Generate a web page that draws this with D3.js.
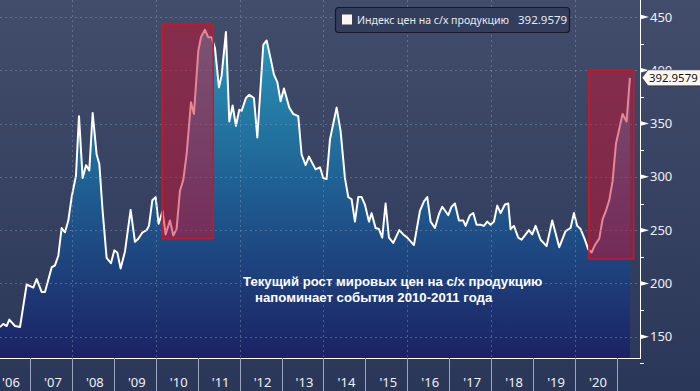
<!DOCTYPE html>
<html><head><meta charset="utf-8">
<script src="https://cdn.jsdelivr.net/npm/d3@7"></script>
<style>html,body{margin:0;padding:0;background:#2c3858;}svg{display:block;}</style>
</head><body><svg id="c" width="700" height="391"></svg>
<script>
// decimal year of each reading
const dates = [2006.285,2006.364,2006.444,2006.507,2006.642,2006.762,2006.921,2007.079,2007.159,2007.278,2007.358,2007.517,2007.596,2007.676,2007.755,2007.835,2007.914,2007.994,2008.097,2008.169,2008.256,2008.336,2008.415,2008.495,2008.590,2008.654,2008.733,2008.828,2008.932,2009.011,2009.083,2009.162,2009.266,2009.401,2009.504,2009.584,2009.687,2009.782,2009.838,2009.918,2009.997,2010.068,2010.163,2010.235,2010.339,2010.418,2010.497,2010.577,2010.656,2010.736,2010.840,2010.911,2011.014,2011.078,2011.174,2011.253,2011.332,2011.412,2011.507,2011.571,2011.674,2011.754,2011.833,2011.913,2011.992,2012.048,2012.151,2012.231,2012.342,2012.422,2012.565,2012.645,2012.740,2012.819,2012.899,2012.978,2013.058,2013.185,2013.280,2013.399,2013.479,2013.574,2013.654,2013.813,2013.916,2013.996,2014.075,2014.155,2014.314,2014.409,2014.512,2014.592,2014.671,2014.751,2014.830,2014.910,2014.989,2015.085,2015.148,2015.243,2015.323,2015.402,2015.482,2015.562,2015.665,2015.808,2015.904,2015.999,2016.158,2016.301,2016.397,2016.476,2016.556,2016.659,2016.754,2016.834,2016.977,2017.056,2017.136,2017.231,2017.335,2017.390,2017.494,2017.573,2017.652,2017.748,2017.827,2017.907,2017.986,2018.066,2018.145,2018.225,2018.328,2018.408,2018.463,2018.543,2018.646,2018.726,2018.901,2018.980,2019.059,2019.179,2019.322,2019.457,2019.624,2019.775,2019.894,2019.974,2020.053,2020.133,2020.236,2020.316,2020.395,2020.475,2020.578,2020.657,2020.737,2020.816,2020.896,2020.976,2021.055,2021.134,2021.230,2021.309];
const values = [159,162,160,166,160,159,199,196,204,192,192,215,217,226,252,248,259,281,301,357,299,311,306,360,321,312,268,224,219,231,229,214,230,269,239,242,248,250,254,278,281,256,268,246,259,245,251,287,297,321,370,359,418,431,438,431,431,421,384,395,436,352,367,348,363,362,374,377,374,337,424,428,411,396,389,371,383,365,359,357,321,311,319,307,309,299,298,335,365,343,299,281,279,258,281,281,274,258,266,252,251,243,275,243,238,250,246,243,236,268,277,281,258,252,265,272,264,272,275,259,259,254,264,266,255,255,254,258,255,258,273,266,274,275,251,254,243,241,250,246,254,241,235,259,234,249,252,266,254,251,241,232,229,236,242,260,268,278,296,331,345,359,352,392.9579];
const seriesName = "Индекс цен на с/х продукцию";
const lastLabel = "392.9579";
const yTicks = [150,200,250,300,350,400,450];
const yMinorTicks = [125,175,225,275,325,375,425];
const yearBounds = [2007,2008,2009,2010,2011,2012,2013,2014,2015,2016,2017,2018,2019,2020,2021];
const gridYears = [2008,2010,2012,2014,2016,2018,2020];
const yearLabels = ["'06","'07","'08","'09","'10","'11","'12","'13","'14","'15","'16","'17","'18","'19","'20"];
const yearLabelYears = [2006,2007,2008,2009,2010,2011,2012,2013,2014,2015,2016,2017,2018,2019,2020];
// highlighted periods: [startYear, endYear, lowValue, highValue]
const highlightStart = [2010.155, 2020.33];
const highlightEnd = [2011.372, 2021.40];
const highlightLow = [242, 223];
const highlightHigh = [443, 400];
const noteLines = ["Текущий рост мировых цен на с/х продукцию", "напоминает события 2010-2011 года"];

const W = 700, H = 391, plotR = 640, plotB = 358;
const svg = d3.select("#c");
const defs = svg.append("defs");
const bg = defs.append("linearGradient").attr("id","bg").attr("x1",0).attr("y1",0).attr("x2",0).attr("y2",1);
bg.append("stop").attr("offset","0%").attr("stop-color","#424d6b");
bg.append("stop").attr("offset","100%").attr("stop-color","#2b3758");
const ag = defs.append("linearGradient").attr("id","ag").attr("gradientUnits","userSpaceOnUse").attr("x1",0).attr("y1",20).attr("x2",0).attr("y2",plotB);
ag.append("stop").attr("offset","0%").attr("stop-color","#2a9cbc");
ag.append("stop").attr("offset","50%").attr("stop-color","#1f5e92");
ag.append("stop").attr("offset","100%").attr("stop-color","#1c2264");
defs.append("clipPath").attr("id","clip").append("rect").attr("x",0).attr("y",0).attr("width",plotR).attr("height",plotB);

svg.append("rect").attr("width",W).attr("height",H).attr("fill","url(#bg)");

const x = d3.scaleLinear().domain([2006.285, 2021.55]).range([0, plotR]);
const y = d3.scaleLinear().domain([130, 466]).range([plotB, 0]);
const data = dates.map((d,i)=>({t:d, v:values[i]}));

const g = svg.append("g").attr("clip-path","url(#clip)");
g.append("path").datum(data)
  .attr("d", d3.area().x(d=>x(d.t)).y0(plotB).y1(d=>y(d.v)))
  .attr("fill","url(#ag)");

// grid
svg.append("g").selectAll("line").data(yTicks).join("line")
  .attr("x1",0).attr("x2",plotR).attr("y1",d=>Math.round(y(d))+0.5).attr("y2",d=>Math.round(y(d))+0.5)
  .attr("stroke","#8a9ab8").attr("stroke-opacity",0.45).attr("stroke-dasharray","2,3");
svg.append("g").selectAll("line").data(gridYears).join("line")
  .attr("x1",d=>Math.round(x(d))+0.5).attr("x2",d=>Math.round(x(d))+0.5).attr("y1",0).attr("y2",plotB)
  .attr("stroke","#8a9ab8").attr("stroke-opacity",0.45).attr("stroke-dasharray","2,3");

g.append("path").datum(data)
  .attr("d", d3.line().x(d=>x(d.t)).y(d=>y(d.v)))
  .attr("fill","none").attr("stroke","#ffffff").attr("stroke-width",2).attr("stroke-linejoin","round");

// highlight boxes
svg.append("g").selectAll("rect").data(highlightStart).join("rect")
  .attr("x",(d,i)=>x(d)).attr("width",(d,i)=>x(highlightEnd[i])-x(d))
  .attr("y",(d,i)=>y(highlightHigh[i])).attr("height",(d,i)=>y(highlightLow[i])-y(highlightHigh[i]))
  .attr("fill","#cc1030").attr("fill-opacity",0.5)
  .attr("stroke","#c81828").attr("stroke-width",1.5);

// note
const note = svg.append("g").attr("font-family","Liberation Sans, Arial, sans-serif").attr("font-weight","bold")
  .attr("font-size","13.2px").attr("fill","#ffffff");
note.append("text").attr("x",243).attr("y",286).text(noteLines[0]);
note.append("text").attr("x",255).attr("y",302).text(noteLines[1]);

// right axis
svg.append("line").attr("x1",plotR+0.5).attr("x2",plotR+0.5).attr("y1",0).attr("y2",plotB+1).attr("stroke","#ffffff").attr("stroke-width",1);
svg.append("line").attr("x1",0).attr("x2",plotR+1).attr("y1",plotB+0.5).attr("y2",plotB+0.5).attr("stroke","#ffffff").attr("stroke-width",1);
const ax = svg.append("g").attr("font-family","Noto Sans, sans-serif").attr("font-size","13px").attr("fill","#eef0f6");
ax.selectAll("path.tri").data(yTicks).join("path").attr("class","tri")
  .attr("d",d=>{const yy=y(d);return `M${plotR},${yy-2.5}L${plotR+9},${yy}L${plotR},${yy+2.5}Z`;})
  .attr("fill","#ffffff");
ax.selectAll("line.mn").data(yMinorTicks).join("line").attr("class","mn")
  .attr("x1",plotR).attr("x2",plotR+4).attr("y1",d=>Math.round(y(d))+0.5).attr("y2",d=>Math.round(y(d))+0.5)
  .attr("stroke","#ffffff");
ax.selectAll("text").data(yTicks).join("text")
  .attr("x",plotR+10).attr("y",d=>y(d)+4.5).text(d=>d);

// last value tag
const lv = values[values.length-1], ly = y(lv);
svg.append("path").attr("d",`M${plotR+2},${ly}L${plotR+8},${ly-8}L${W+2},${ly-8}L${W+2},${ly+8}L${plotR+8},${ly+8}Z`)
  .attr("fill","#fff8f0").attr("stroke","#222").attr("stroke-width",0.6);
svg.append("text").attr("x",plotR+9).attr("y",ly+4.2).attr("font-family","Noto Sans, sans-serif").attr("font-size","11.4px")
  .attr("fill","#111").text(lastLabel);

// x axis
const xa = svg.append("g");
xa.selectAll("line").data(yearBounds).join("line")
  .attr("x1",d=>Math.round(x(d))+0.5).attr("x2",d=>Math.round(x(d))+0.5).attr("y1",plotB).attr("y2",H)
  .attr("stroke","#9aa6c0").attr("stroke-width",1);
xa.selectAll("text").data(yearLabels).join("text")
  .attr("x",(d,i)=>x(yearLabelYears[i]+0.5)+2).attr("y",387).attr("text-anchor","middle")
  .attr("font-family","Noto Sans, sans-serif").attr("font-size","13px").attr("fill","#eef0f6").text(d=>d);

// legend
const lg = svg.append("g");
lg.append("rect").attr("x",335.5).attr("y",7.5).attr("width",234).attr("height",25).attr("rx",3)
  .attr("fill","#333d5c").attr("stroke","#141a2c").attr("stroke-width",1.2);
lg.append("rect").attr("x",342).attr("y",14.5).attr("width",10).attr("height",10).attr("fill","#fff4ee");
lg.append("text").attr("x",357).attr("y",24).attr("font-family","Noto Sans, sans-serif").attr("font-size","11px")
  .attr("fill","#e8eaf2").attr("textLength",152).attr("lengthAdjust","spacingAndGlyphs").text(seriesName);
lg.append("text").attr("x",518).attr("y",24).attr("font-family","Noto Sans, sans-serif").attr("font-size","11.5px")
  .attr("fill","#e8eaf2").text(lastLabel);
</script></body></html>
